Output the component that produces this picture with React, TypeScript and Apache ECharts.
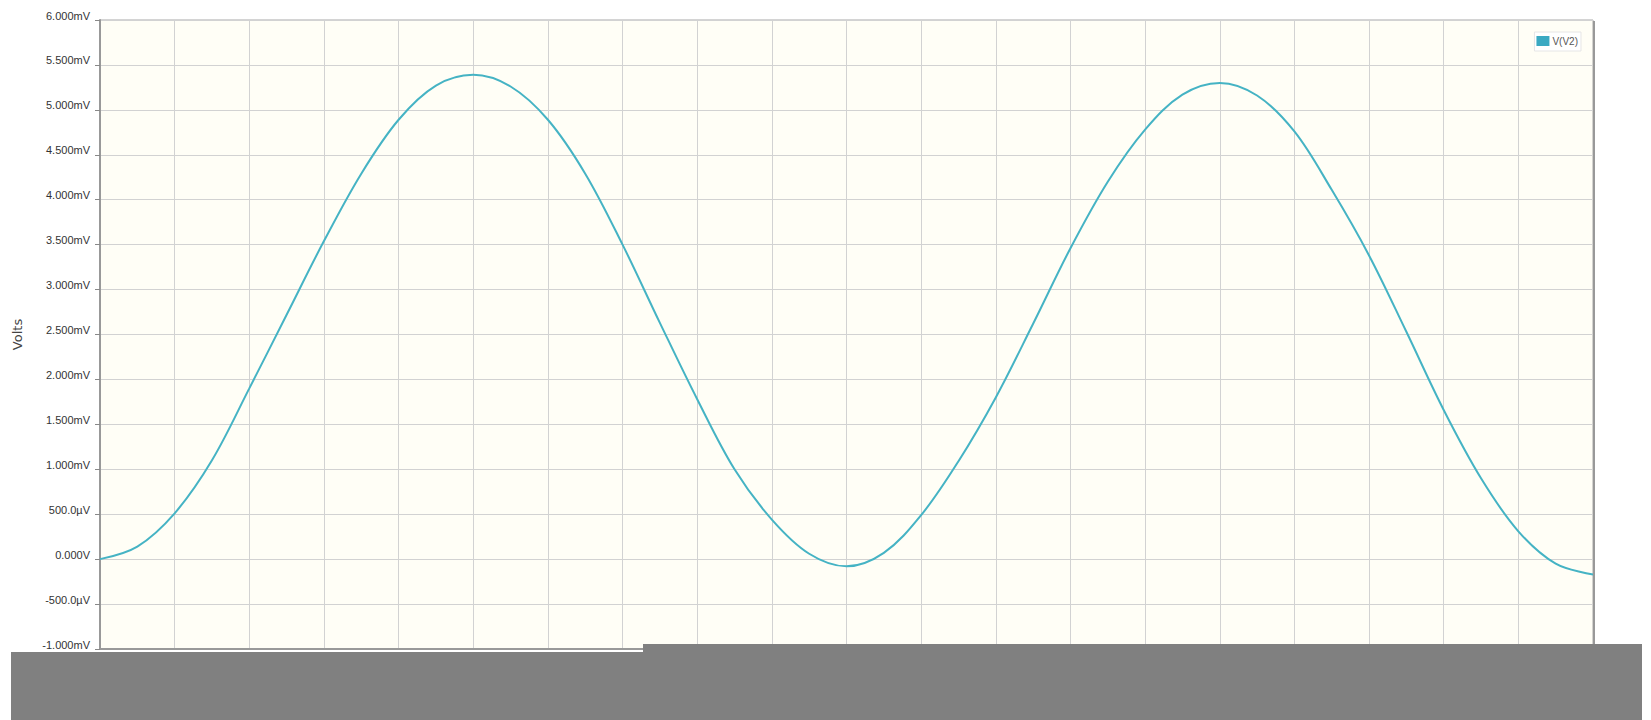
import React, { useEffect, useRef } from "react";
import * as echarts from "echarts";

const TIME = [
  0, 0.5, 1, 1.5, 2, 2.5, 3, 3.5, 4, 4.5, 5, 5.5, 6, 6.5, 7, 7.5, 8, 8.5, 9, 9.5,
  10, 10.5, 11, 11.5, 12, 12.5, 13, 13.5, 14, 14.5, 15, 15.5, 16, 16.5, 17, 17.5,
  18, 18.5, 19, 19.5, 20,
];
// V(V2) in mV
const V_V2 = [
  0.0, 0.14, 0.51, 1.1, 1.9, 2.72, 3.54, 4.29, 4.89, 5.27, 5.39, 5.26, 4.89, 4.29,
  3.5, 2.63, 1.78, 1.0, 0.44, 0.06, -0.08, 0.07, 0.49, 1.09, 1.8, 2.62, 3.46, 4.2,
  4.78, 5.17, 5.3, 5.16, 4.76, 4.11, 3.38, 2.53, 1.66, 0.9, 0.31, -0.05, -0.17,
];
const SERIES_NAME = "V(V2)";
const Y_NAME = "Volts";

function fmtVolt(v: number): string {
  if (Math.abs(v) < 1e-9) return "0.000V";
  if (Math.abs(v) < 1) return (v * 1000).toFixed(1) + "\u00b5V";
  return v.toFixed(3) + "mV";
}

export default function App() {
  const ref = useRef<HTMLDivElement>(null);
  useEffect(() => {
    if (!ref.current) return;
    const chart = echarts.init(ref.current, null, { renderer: "svg" });
    const data = TIME.map((t, i) => [t, V_V2[i]]);
    chart.setOption({
      animation: false,
      backgroundColor: "#ffffff",
      textStyle: { fontFamily: "Liberation Sans, Arial, sans-serif" },
      grid: {
        left: 100,
        top: 20,
        right: 58,
        bottom: 71,
        show: true,
        backgroundColor: "#fffef6",
        borderColor: "#a8a8a8",
        borderWidth: 1,
      },
      legend: {
        right: 70,
        top: 32,
        data: [SERIES_NAME],
        icon: "rect",
        itemWidth: 13,
        itemHeight: 10,
        itemGap: 2,
        padding: [4, 3, 5, 2],
        backgroundColor: "#ffffff",
        borderColor: "#e6e6e6",
        borderWidth: 1,
        textStyle: {
          fontSize: 10,
          color: "#555",
          padding: [0, 0, 7, -2],
          fontFamily: "Liberation Sans, Arial, sans-serif",
        },
      },
      xAxis: {
        type: "value",
        min: 0,
        max: 20,
        interval: 1,
        axisLine: { show: true, onZero: false, lineStyle: { color: "#999", width: 2 } },
        axisTick: { show: false },
        axisLabel: { show: false },
        splitLine: { show: true, lineStyle: { color: "#d2d2d2", width: 1 } },
      },
      yAxis: {
        type: "value",
        min: -1,
        max: 6,
        interval: 0.5,
        name: Y_NAME,
        nameLocation: "middle",
        nameGap: 76,
        nameTextStyle: {
          fontSize: 13,
          color: "#444",
          fontFamily: "DejaVu Sans, sans-serif",
        },
        axisLine: { show: true, lineStyle: { color: "#999", width: 2 } },
        axisTick: { show: true, length: 5, lineStyle: { color: "#888" } },
        axisLabel: {
          fontSize: 11,
          color: "#333",
          margin: 10,
          verticalAlign: "bottom",
          lineHeight: 9,
          formatter: (v: number) => fmtVolt(v),
        },
        splitLine: { show: true, lineStyle: { color: "#d2d2d2", width: 1 } },
      },
      series: [
        {
          name: SERIES_NAME,
          type: "line",
          data,
          smooth: 0.35,
          showSymbol: false,
          symbol: "none",
          lineStyle: { color: "#45b3c4", width: 2 },
          itemStyle: { color: "#3aa9c2" },
          clip: true,
        },
      ],
      graphic: [
        {
          type: "line",
          shape: { x1: 1594, y1: 21, x2: 1594, y2: 649 },
          style: { stroke: "#999", lineWidth: 2 },
          z: 10,
        },
        {
          type: "polygon",
          shape: {
            points: [
              [11, 652],
              [643, 652],
              [643, 644],
              [1642, 644],
              [1642, 720],
              [11, 720],
            ],
          },
          style: { fill: "#808080" },
          z: 100,
        },
      ],
    });
    return () => chart.dispose();
  }, []);
  return (
    <div
      ref={ref}
      style={{ position: "fixed", left: 0, top: 0, width: 1651, height: 720 }}
    />
  );
}
